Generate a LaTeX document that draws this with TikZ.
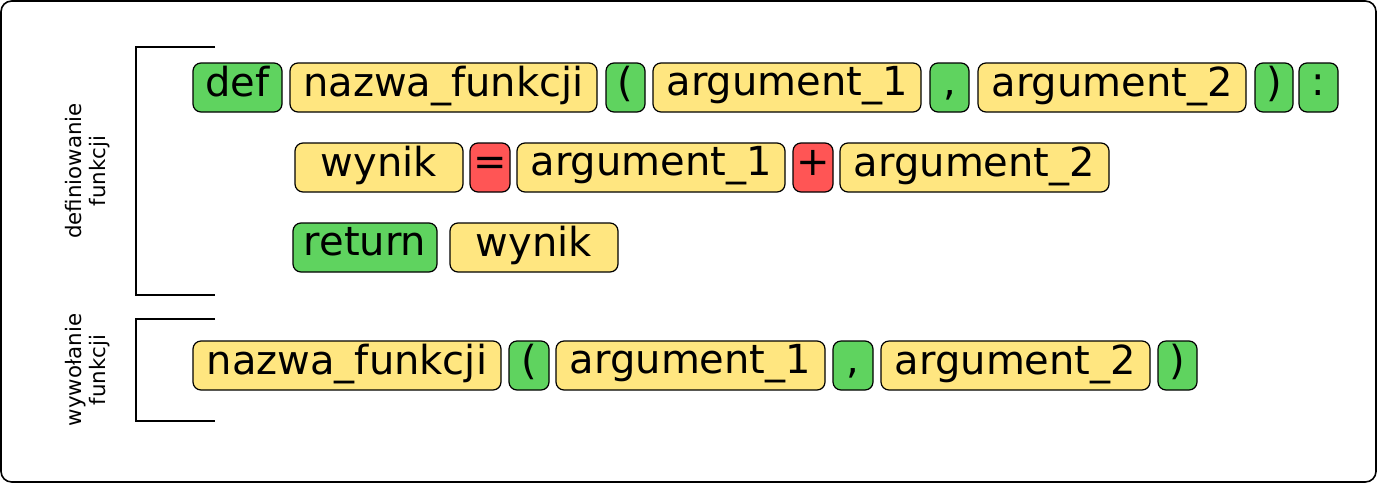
\documentclass[tikz,border=0pt]{standalone}
\usepackage{fontspec}
\setmainfont{DejaVu Sans}
\definecolor{kgreen}{HTML}{5FD35F}
\definecolor{kyellow}{HTML}{FFE680}
\definecolor{kred}{HTML}{FF5555}
\tikzset{
 tok/.style={draw=black,line width=0.9pt,rounded corners=6pt,inner sep=0pt,font=\fontsize{30}{31}\selectfont},
 gtok/.style={tok,fill=kgreen},
 ytok/.style={tok,fill=kyellow},
 rtok/.style={tok,fill=kred},
 lbl/.style={rotate=90,align=center,font=\fontsize{16}{18}\selectfont},
 brk/.style={line width=1.1pt}
}
% box: style, name, x1, x2, y1, y2, text
\newcommand{\tk}[7]{\node[#1,minimum width={(#4-#3)*0.75pt},minimum height={(#6-#5)*0.75pt}] (#2) at ({(#3+#4)/2},{(#5+#6)/2}) {\strut #7};}
\begin{document}
\begin{tikzpicture}[x=0.75pt,y=-0.75pt]
\useasboundingbox (0,0) rectangle (1377,483);
\draw[line width=1.2pt,rounded corners=8pt] (1,1) rectangle (1376,482);
% row 1
\tk{gtok}{def}{193}{282}{63}{112}{def}
\tk{ytok}{nf1}{290}{597}{63}{112}{nazwa\_funkcji}
\tk{gtok}{lp1}{606}{645}{63}{112}{(}
\tk{ytok}{a11}{653}{921}{63}{112}{argument\_1}
\tk{gtok}{cm1}{930}{969}{63}{112}{,}
\tk{ytok}{a21}{978}{1246}{63}{112}{argument\_2}
\tk{gtok}{rp1}{1255}{1293}{63}{112}{)}
\tk{gtok}{col}{1299}{1338}{63}{112}{:}
% row 2
\tk{ytok}{wy1}{295}{463}{143}{192}{wynik}
\tk{rtok}{eq}{470}{510}{143}{192}{=}
\tk{ytok}{a12}{517}{785}{143}{192}{argument\_1}
\tk{rtok}{pl}{793}{833}{143}{192}{+}
\tk{ytok}{a22}{840}{1109}{143}{192}{argument\_2}
% row 3
\tk{gtok}{ret}{293}{437}{223}{272}{return}
\tk{ytok}{wy2}{450}{618}{223}{272}{wynik}
% row 4
\tk{ytok}{nf2}{193}{501}{341}{390}{nazwa\_funkcji}
\tk{gtok}{lp2}{509}{549}{341}{390}{(}
\tk{ytok}{a14}{556}{825}{341}{390}{argument\_1}
\tk{gtok}{cm2}{833}{873}{341}{390}{,}
\tk{ytok}{a24}{881}{1150}{341}{390}{argument\_2}
\tk{gtok}{rp2}{1158}{1197}{341}{390}{)}
% brackets
\draw[brk] (215,47) -- (136,47) -- (136,295) -- (215,295);
\draw[brk] (215,319) -- (136,319) -- (136,421) -- (215,421);
\node[lbl] (l1) at (88,171) {definiowanie\\funkcji};
\node[lbl] (l2) at (88,370) {wywołanie\\funkcji};
\end{tikzpicture}
\end{document}
